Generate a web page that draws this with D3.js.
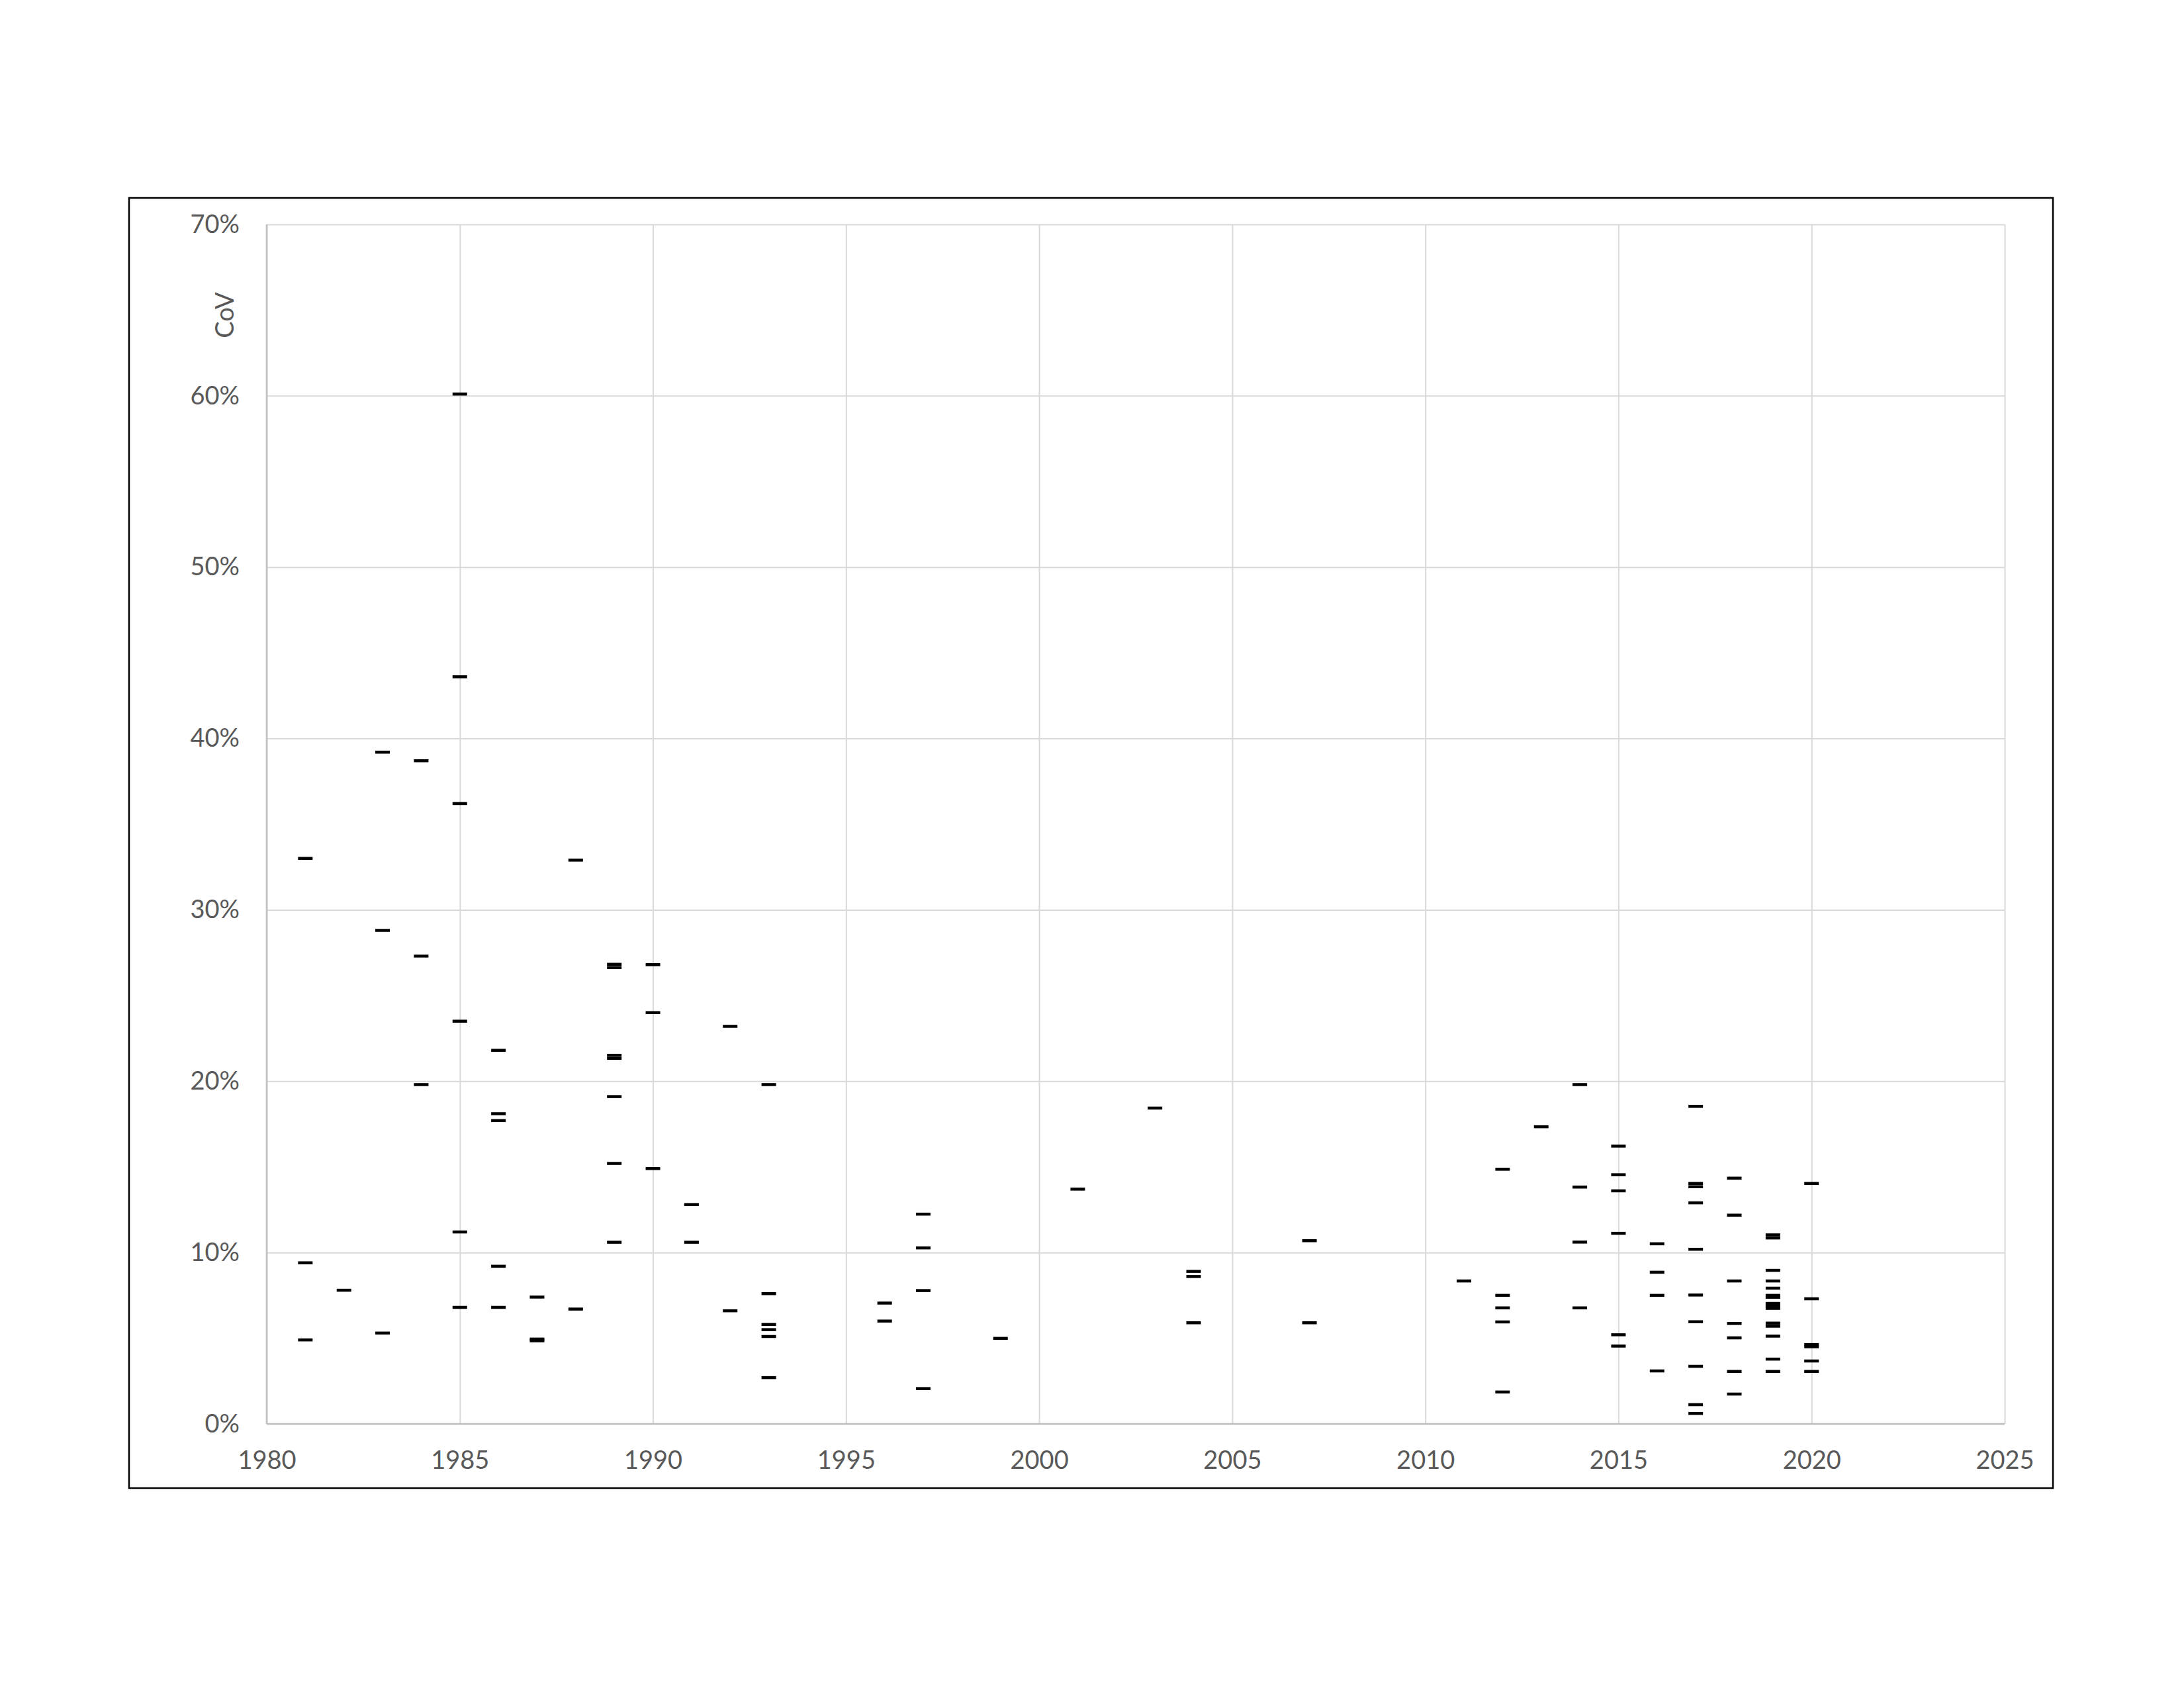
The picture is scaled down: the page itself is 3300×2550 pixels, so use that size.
<!DOCTYPE html>
<html lang="en">
	<head>
		<meta charset="utf-8">
		<title>CoV by year</title>
		<script type="text/javascript" src="https://d3js.org/d3.v7.min.js"></script>
		<style>
			body { margin: 0; background-color: white; }
			svg { display: block; }
		</style>
	</head>

	<body>
		<script type="text/javascript">
			"use strict";

			//year of each measurement and its CoV (in %), same order
			let studyYear = [
				1981, 1981, 1981,
				1982,
				1983, 1983, 1983,
				1984, 1984, 1984,
				1985, 1985, 1985, 1985, 1985, 1985,
				1986, 1986, 1986, 1986, 1986,
				1987, 1987, 1987,
				1988, 1988,
				1989, 1989, 1989, 1989, 1989, 1989, 1989,
				1990, 1990, 1990,
				1991, 1991,
				1992, 1992,
				1993, 1993, 1993, 1993, 1993, 1993,
				1996, 1996,
				1997, 1997, 1997, 1997,
				1999,
				2001,
				2003,
				2004, 2004, 2004,
				2007, 2007,
				2011,
				2012, 2012, 2012, 2012, 2012,
				2013,
				2014, 2014, 2014, 2014,
				2015, 2015, 2015, 2015, 2015, 2015,
				2016, 2016, 2016, 2016,
				2017, 2017, 2017, 2017, 2017, 2017, 2017, 2017, 2017, 2017,
				2018, 2018, 2018, 2018, 2018, 2018, 2018,
				2019, 2019, 2019, 2019, 2019, 2019, 2019, 2019, 2019, 2019, 2019, 2019, 2019, 2019, 2019,
				2020, 2020, 2020, 2020, 2020, 2020
			];
			let covPct = [
				33.0, 9.4, 4.9,
				7.8,
				39.2, 28.8, 5.3,
				38.7, 27.3, 19.8,
				60.1, 43.6, 36.2, 23.5, 11.2, 6.8,
				21.8, 18.1, 17.7, 9.2, 6.8,
				7.4, 4.95, 4.85,
				32.9, 6.7,
				26.82, 26.63, 21.51, 21.33, 19.1, 15.2, 10.6,
				26.8, 24.0, 14.9,
				12.8, 10.6,
				23.2, 6.6,
				19.8, 7.6, 5.8, 5.5, 5.1, 2.7,
				7.05, 6.0,
				12.24, 10.27, 7.78, 2.06,
				4.99,
				13.7,
				18.43,
				8.9, 8.6, 5.9,
				10.69, 5.9,
				8.34,
				14.86, 7.5, 6.77, 5.95, 1.86,
				17.34,
				19.8, 13.82, 10.61, 6.77,
				16.21, 14.54, 13.6, 11.12, 5.2, 4.54,
				10.51, 8.85, 7.5, 3.09,
				18.53, 14.03, 13.84, 12.9, 10.19, 7.52, 5.96, 3.36, 1.12, 0.61,
				14.34, 12.18, 8.34, 5.86, 5.02, 3.06, 1.74,
				11.03, 10.85, 8.96, 8.34, 7.92, 7.5, 7.39, 7.03, 6.89, 6.74, 5.88, 5.7, 5.12, 3.78, 3.06,
				14.03, 7.3, 4.63, 4.5, 3.67, 3.06
			];

			//axis ticks
			let yearTicks = [1980, 1985, 1990, 1995, 2000, 2005, 2010, 2015, 2020, 2025];
			let covTicks = [0, 0.1, 0.2, 0.3, 0.4, 0.5, 0.6, 0.7];
			let yLabel = "CoV";

			//page size and plot box
			let w = 3300;
			let h = 2550;
			let plot = {left: 403, right: 3029, top: 339, bottom: 2151};
			let frame = {x: 195, y: 299, w: 2907, h: 1949};
			let textColor = "#595959";
			let fontFamily = "Lato, 'Open Sans', sans-serif";

			let points = studyYear.map(function(y, i) {
				return {year: y, cov: covPct[i] / 100};
			});

			let x = d3.scaleLinear().domain([1980, 2025]).range([plot.left, plot.right]);
			let y = d3.scaleLinear().domain([0, 0.7]).range([plot.bottom, plot.top]);

			let svg = d3.select("body")
						.append("svg")
						.attr("width", w)
						.attr("height", h);

			svg.append("rect")
				.attr("width", w)
				.attr("height", h)
				.style("fill", "white");

			//outer chart border
			svg.append("rect")
				.attr("x", frame.x)
				.attr("y", frame.y)
				.attr("width", frame.w)
				.attr("height", frame.h)
				.style("fill", "none")
				.style("stroke", "black")
				.style("stroke-width", 2.5);

			//gridlines
			let xGrid = svg.append("g")
				.attr("transform", "translate(0," + plot.bottom + ")")
				.call(d3.axisBottom(x).tickValues(yearTicks).tickSize(-(plot.bottom - plot.top)).tickFormat(""));
			let yGrid = svg.append("g")
				.attr("transform", "translate(" + plot.left + ",0)")
				.call(d3.axisLeft(y).tickValues(covTicks).tickSize(-(plot.right - plot.left)).tickFormat(""));
			svg.selectAll(".domain").remove();
			[xGrid, yGrid].forEach(function(g) {
				g.selectAll("line")
					.style("stroke", "#d9d9d9")
					.style("stroke-width", 2);
			});

			//axis lines, a little darker
			svg.append("line")
				.attr("x1", plot.left).attr("x2", plot.right)
				.attr("y1", plot.bottom).attr("y2", plot.bottom)
				.style("stroke", "#bfbfbf")
				.style("stroke-width", 2.5);
			svg.append("line")
				.attr("x1", plot.left).attr("x2", plot.left)
				.attr("y1", plot.top).attr("y2", plot.bottom)
				.style("stroke", "#bfbfbf")
				.style("stroke-width", 2.5);

			//tick labels
			let xAxis = svg.append("g")
				.attr("transform", "translate(0," + plot.bottom + ")")
				.call(d3.axisBottom(x).tickValues(yearTicks).tickSize(0).tickPadding(41).tickFormat(d3.format("d")));
			let yAxis = svg.append("g")
				.attr("transform", "translate(" + plot.left + ",0)")
				.call(d3.axisLeft(y).tickValues(covTicks).tickSize(0).tickPadding(41).tickFormat(d3.format(".0%")));
			[xAxis, yAxis].forEach(function(g) {
				g.select(".domain").remove();
				g.selectAll("text")
					.style("font-family", fontFamily)
					.style("font-size", "38px")
					.style("fill", textColor);
			});

			//axis title
			svg.append("text")
				.attr("transform", "translate(353,476) rotate(-90)")
				.attr("text-anchor", "middle")
				.style("font-family", fontFamily)
				.style("font-size", "38px")
				.style("fill", textColor)
				.text(yLabel);

			//dash markers
			let markW = 22;
			let markH = 4.5;
			svg.append("g")
				.selectAll("rect")
				.data(points)
				.enter()
				.append("rect")
				.attr("x", function(d) { return x(d.year) - markW / 2; })
				.attr("y", function(d) { return y(d.cov) - markH / 2; })
				.attr("width", markW)
				.attr("height", markH)
				.style("fill", "black");
		</script>
	</body>
</html>
